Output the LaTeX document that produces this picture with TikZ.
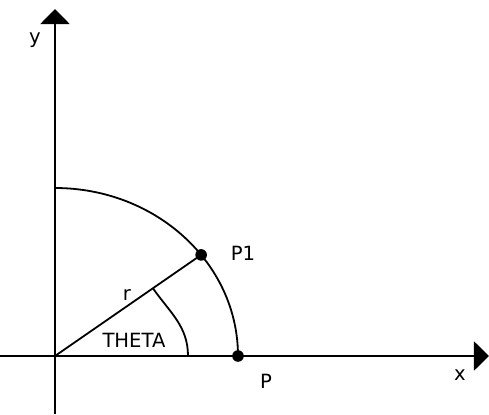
\documentclass[tikz,border=0pt]{standalone}
\usepackage{fontspec}
\setmainfont{DejaVu Sans}
\usetikzlibrary{arrows.meta,calc}
\begin{document}
\begin{tikzpicture}[x=0.5pt,y=0.5pt,
  axis/.style={line width=1pt,-{Triangle[width=14.5pt,length=7.5pt]}},
  curve/.style={line width=0.9pt},
  lbl/.style={font=\fontsize{9.8}{11}\selectfont,inner sep=0pt},
  dot/.style={circle,fill,inner sep=0pt,minimum size=5.8pt}]
\useasboundingbox (0,0) rectangle (489,414);
\coordinate (O) at (55,58);
\coordinate (ybot) at (55,0);
\coordinate (ytop) at (55,405);
\coordinate (xl) at (0,58);
\coordinate (xr) at (489,58);
\coordinate (Top) at (55,226);
\coordinate (P) at ($(O)+(0:183 and 168)$);
\coordinate (P1) at ($(O)+(37:183 and 168)$);
\coordinate (A) at (188,58);
\coordinate (T) at ($(O)!0.67!(P1)$);
\draw[axis] (ybot) -- (ytop);
\draw[axis] (xl) -- (xr);
\draw[curve] (Top) arc[start angle=90,end angle=0,x radius=183,y radius=168];
\draw[curve] (O) -- (P1);
\draw[curve] (A) to[out=90,in=-55] (T);
\node[dot] (p1dot) at (P1) {};
\node[dot] (pdot) at (P) {};
\node[lbl] (ylab) at (35,374) {y};
\node[lbl] (xlab) at (460,39) {x};
\node[lbl] (plab) at (266,33) {P};
\node[lbl] (p1lab) at (243,161) {P1};
\node[lbl] (rlab) at (127,119) {r};
\node[lbl] (thlab) at (134,74) {THETA};
\end{tikzpicture}
\end{document}
